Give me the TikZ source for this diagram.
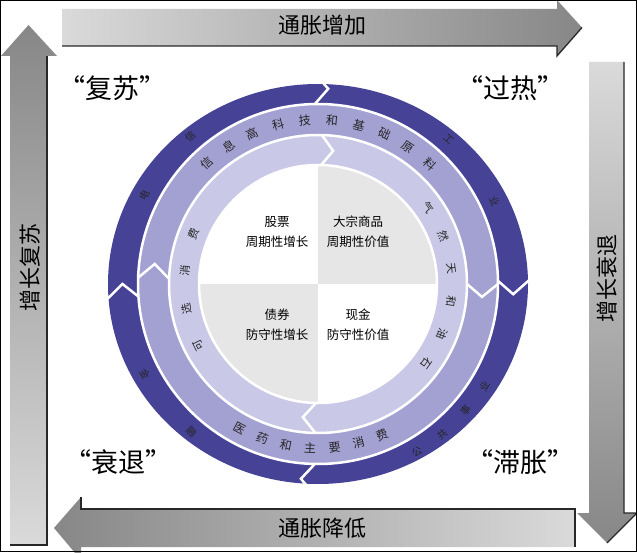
\documentclass[tikz,border=0pt]{standalone}
\usepackage{fontspec}
\newfontfamily\cjk{Noto Sans CJK SC}
\usepackage{tikz}
\usetikzlibrary{positioning}
\definecolor{ringout}{RGB}{70,66,150}
\definecolor{ringmid}{RGB}{163,160,210}
\definecolor{ringin}{RGB}{202,200,231}
\definecolor{quadgray}{RGB}{230,230,230}
\definecolor{arrowdark}{RGB}{135,135,135}
\definecolor{arrowlight}{RGB}{218,218,218}
\definecolor{arrowedge}{RGB}{40,40,40}
\tikzset{
  ringtxt/.style={font=\cjk\fontsize{#1}{#1}\selectfont,inner sep=0pt,text=black!85},
  quadtxt/.style={font=\cjk\fontsize{12.5}{20}\selectfont,align=center,inner sep=0pt},
  arrowtxt/.style={font=\cjk\fontsize{22}{22}\selectfont,inner sep=0pt},
  phasetxt/.style={font=\cjk\fontsize{27}{27}\selectfont,inner sep=0pt},
  shadowline/.style={arrowedge,line width=1.3pt}
}
\newcommand{\ringbreak}[4]{\draw[white,line width=2.5pt] ([shift={(#1:#3)}]ctr) -- ([shift={(#2:{(#3+#4)/2})}]ctr) -- ([shift={(#1:#4)}]ctr)}

\begin{document}
\begin{tikzpicture}[x=1pt,y=1pt]
    \useasboundingbox (0,0) rectangle (637,552);
    \coordinate (ctr) at (318,268);
    % the four big arrows
    \shade[left color=arrowlight,right color=arrowdark] (62,543) -- (557,543) -- (557,552) -- (582,524.5) -- (557,496) -- (557,506) -- (62,506) -- cycle;
    \draw[shadowline] (62,506) -- (557,506) -- (557,496) -- (582,524.5);
    \shade[top color=arrowlight,bottom color=arrowdark] (589,490) -- (624,490) -- (624,39) -- (637,39) -- (607,9) -- (577,39) -- (589,39) -- cycle;
    \draw[shadowline] (624,490) -- (624,39) -- (637,39) -- (607,9);
    \shade[left color=arrowdark,right color=arrowlight] (575,43) -- (81,43) -- (81,55) -- (54,24) -- (81,-8) -- (81,5) -- (575,5) -- cycle;
    \draw[shadowline] (81,55) -- (81,43) -- (575,43) -- (575,5);
    \shade[top color=arrowdark,bottom color=arrowlight] (10,7) -- (47,7) -- (47,496) -- (57,496) -- (28.5,527) -- (1,496) -- (10,496) -- cycle;
    \draw[shadowline] (47,496) -- (47,7) -- (10,7);
    \node[arrowtxt] (infup) at (322,527) {通胀增加};
    \node[arrowtxt] (infdown) at (322,24) {通胀降低};
    \node[arrowtxt,rotate=90] (growdown) at (607,273) {增长衰退};
    \node[arrowtxt,rotate=90] (growup) at (30,284) {增长复苏};
    % phase names
    \node[phasetxt] (recov) at (112,464) {“复苏”};
    \node[phasetxt] (overh) at (510,464) {“过热”};
    \node[phasetxt] (reces) at (118,90) {“衰退”};
    \node[phasetxt] (stagf) at (520,90) {“滞胀”};
    % rings
    \fill[ringout] (ctr) ellipse (210 and 200);
    \fill[ringmid] (ctr) circle (180);
    \fill[ringin] (ctr) circle (149);
    \begin{scope}
      \clip (ctr) circle (119);
      \fill[white] (ctr) circle (119);
      \fill[quadgray] (ctr) rectangle ++(120,120);
      \fill[quadgray] (ctr) rectangle ++(-120,-120);
    \end{scope}
    \draw[white,line width=2.5pt] (ctr) circle (119) circle (149) circle (180);
    \ringbreak{88.5}{83.5}{119}{149};
    \ringbreak{269}{263.5}{119}{149};
    \ringbreak{178}{173}{149}{180};
    \ringbreak{0}{-4.5}{149}{180};
    \ringbreak{91}{87}{180}{211};
    \ringbreak{269}{265}{180}{211};
    \ringbreak{184}{180}{180}{211};
    \ringbreak{1}{-3}{180}{211};
    % quadrant texts
    \node[quadtxt] (stocks) at (277,320) {股票\\周期性增长};
    \node[quadtxt] (commod) at (358,320) {大宗商品\\周期性价值};
    \node[quadtxt] (bonds) at (277,227) {债券\\防守性增长};
    \node[quadtxt] (cash) at (358,227) {现金\\防守性价值};
    % sector names round the rings
    \foreach \ch [count=\i from 0] in {信,息,高,科,技,和,基,础,原,料} {
      \pgfmathsetmacro\ang{132.6-9.5*\i}
      \node[ringtxt=12,rotate=\ang-90] (midtop\i) at ([shift={(\ang:164)}]ctr) {\ch};
    }
    \foreach \ch [count=\i from 0] in {医,药,和,主,要,消,费} {
      \pgfmathsetmacro\ang{241.6+8.55*\i}
      \node[ringtxt=12,rotate=\ang+90] (midbot\i) at ([shift={(\ang:164)}]ctr) {\ch};
    }
    \foreach \ch [count=\i from 0] in {可,选,消,费} {
      \pgfmathsetmacro\ang{207-16.3*\i}
      \node[ringtxt=11,rotate=\ang-90] (inleft\i) at ([shift={(\ang:134)}]ctr) {\ch};
    }
    \foreach \ch [count=\i from 0] in {石,油,和,天,然,气} {
      \pgfmathsetmacro\ang{-36+14.2*\i}
      \node[ringtxt=11,rotate=\ang-90] (inright\i) at ([shift={(\ang:134)}]ctr) {\ch};
    }
    \foreach \ang/\ch [count=\i] in {153/电,131/信,48/工,25/业} {
      \node[ringtxt=10,rotate=\ang-90] (outtop\i) at ([shift={(\ang:195)}]ctr) {\ch};
    }
    \foreach \ang/\ch [count=\i] in {207.5/金,229.5/融,-59.5/公,-50.5/共,-40.5/事,-31.5/业} {
      \node[ringtxt=10,rotate=\ang+90] (outbot\i) at ([shift={(\ang:195)}]ctr) {\ch};
    }
    \draw[black,line width=1pt] (0.5,0.5) rectangle (636.5,551.5);
\end{tikzpicture}
\end{document}
